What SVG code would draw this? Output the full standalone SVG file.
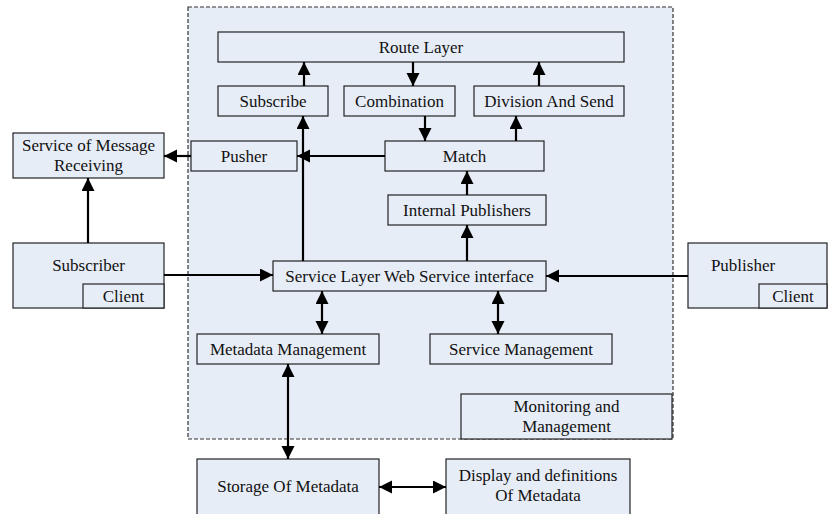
<svg xmlns="http://www.w3.org/2000/svg" width="829" height="514" viewBox="0 0 829 514">
<style>
.box{fill:#e7edf7;stroke:#222;stroke-width:1.2}
text{font-family:'Liberation Serif','DejaVu Serif',serif;font-size:17px;fill:#111;text-anchor:middle}
.c{stroke:#000;stroke-width:2.2;fill:none}
</style>
<defs>
<marker id="ah" markerUnits="userSpaceOnUse" markerWidth="14" markerHeight="14" refX="13" refY="6.5" orient="auto-start-reverse">
<path d="M0,0 L13,6.5 L0,13 z" fill="#000"/>
</marker>
</defs>
<rect width="829" height="514" fill="#fff"/>
<g id="container">
<rect x="188" y="7" width="485" height="432" fill="#e7edf7" stroke="#333" stroke-width="1.2" stroke-dasharray="4,2"/>
</g>
<g font-family="Liberation Serif, DejaVu Serif, serif">
<g id="route-layer"><rect class="box" x="218" y="32" width="406" height="30"/><text x="421" y="53">Route Layer</text></g>
<g id="subscribe"><rect class="box" x="218" y="86" width="110" height="30"/><text x="273" y="107">Subscribe</text></g>
<g id="combination"><rect class="box" x="344" y="86" width="111" height="30"/><text x="399.5" y="107">Combination</text></g>
<g id="division"><rect class="box" x="474" y="86" width="150" height="30"/><text x="549" y="107">Division And Send</text></g>
<g id="service-msg-receiving"><rect class="box" x="13" y="133" width="151" height="45"/><text x="88.5" y="151">Service of Message</text><text x="88.5" y="171">Receiving</text></g>
<g id="pusher"><rect class="box" x="191" y="141" width="106" height="30"/><text x="244" y="162">Pusher</text></g>
<g id="match"><rect class="box" x="385" y="141" width="159" height="30"/><text x="464.5" y="162">Match</text></g>
<g id="internal-publishers"><rect class="box" x="388" y="195" width="158" height="30"/><text x="467" y="216">Internal Publishers</text></g>
<g id="subscriber"><rect class="box" x="13" y="243" width="151" height="65"/><text x="88.5" y="271">Subscriber</text><rect class="box" x="83" y="284" width="81" height="24"/><text x="123.5" y="302">Client</text></g>
<g id="service-layer"><rect class="box" x="273" y="261" width="273" height="30"/><text x="409.5" y="282">Service Layer Web Service interface</text></g>
<g id="publisher"><rect class="box" x="688" y="243" width="139" height="65"/><text x="743" y="271">Publisher</text><rect class="box" x="759" y="284" width="68" height="24"/><text x="793" y="302">Client</text></g>
<g id="metadata-management"><rect class="box" x="197" y="334" width="182" height="30"/><text x="288" y="355">Metadata Management</text></g>
<g id="service-management"><rect class="box" x="430" y="334" width="182" height="30"/><text x="521" y="355">Service Management</text></g>
<g id="monitoring"><rect class="box" x="461" y="394" width="211" height="45"/><text x="566.5" y="412">Monitoring and</text><text x="566.5" y="432">Management</text></g>
<g id="storage"><rect class="box" x="197" y="459" width="182" height="70"/><text x="288" y="492">Storage Of Metadata</text></g>
<g id="display"><rect class="box" x="446" y="459" width="184" height="70"/><text x="538" y="481">Display and definitions</text><text x="538" y="501">Of Metadata</text></g>
</g>
<g id="connectors">
<line class="c" x1="304" y1="86" x2="304" y2="62" marker-end="url(#ah)"/>
<line class="c" x1="413" y1="62" x2="413" y2="86" marker-end="url(#ah)"/>
<line class="c" x1="539" y1="86" x2="539" y2="62" marker-end="url(#ah)"/>
<line class="c" x1="425" y1="116" x2="425" y2="141" marker-end="url(#ah)"/>
<line class="c" x1="516" y1="141" x2="516" y2="116" marker-end="url(#ah)"/>
<line class="c" x1="467" y1="195" x2="467" y2="171" marker-end="url(#ah)"/>
<line class="c" x1="467" y1="261" x2="467" y2="225" marker-end="url(#ah)"/>
<line class="c" x1="303" y1="261" x2="303" y2="116" marker-end="url(#ah)"/>
<line class="c" x1="385" y1="156" x2="297" y2="156" marker-end="url(#ah)"/>
<line class="c" x1="191" y1="156" x2="164" y2="156" marker-end="url(#ah)"/>
<line class="c" x1="88" y1="243" x2="88" y2="178" marker-end="url(#ah)"/>
<line class="c" x1="164" y1="275" x2="273" y2="275" marker-end="url(#ah)"/>
<line class="c" x1="688" y1="276" x2="546" y2="276" marker-end="url(#ah)"/>
<line class="c" x1="322" y1="291" x2="322" y2="334" marker-start="url(#ah)" marker-end="url(#ah)"/>
<line class="c" x1="498" y1="291" x2="498" y2="334" marker-start="url(#ah)" marker-end="url(#ah)"/>
<line class="c" x1="288" y1="364" x2="288" y2="459" marker-start="url(#ah)" marker-end="url(#ah)"/>
<line class="c" x1="379" y1="487" x2="446" y2="487" marker-start="url(#ah)" marker-end="url(#ah)"/>
</g>
</svg>
